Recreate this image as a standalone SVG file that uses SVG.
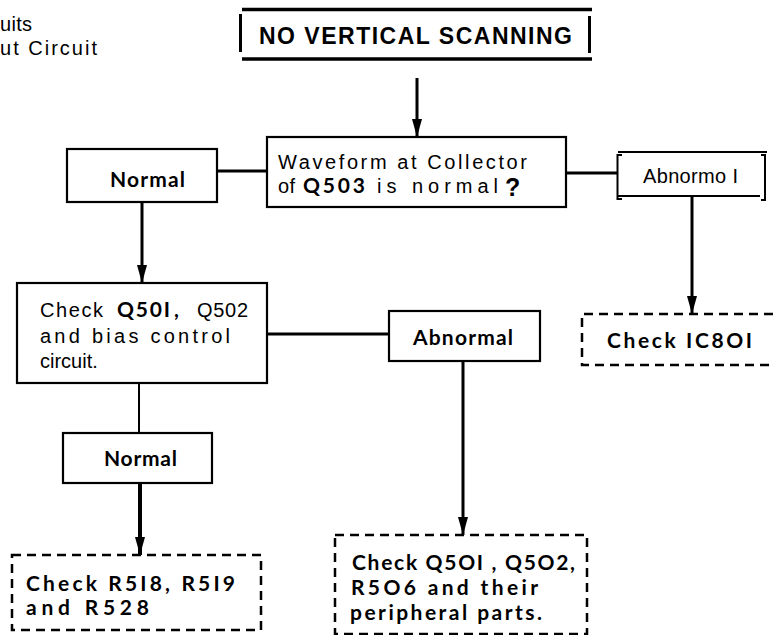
<svg xmlns="http://www.w3.org/2000/svg" width="773" height="635" viewBox="0 0 773 635">
<defs>
<style>
.box{fill:#fff;stroke:#000;stroke-width:2.2}
.dash{fill:none;stroke:#000;stroke-width:2.5;stroke-dasharray:9 6}
.conn{stroke:#000;stroke-width:3;fill:none}
.t{font-family:"Liberation Sans",Arial,sans-serif;font-size:20px;fill:#000}
.r{font-family:"Lato","Liberation Sans",sans-serif;font-weight:bold;font-size:21px;fill:#000}
</style>
<marker id="ah" markerUnits="userSpaceOnUse" markerWidth="18" markerHeight="10" refX="18" refY="5" orient="auto">
<path d="M0,0 L18,5 L0,10 Z" fill="#000"/>
</marker>
</defs>
<rect width="773" height="635" fill="#fff"/>

<g id="header-fragment">
<text class="t" x="0" y="31" font-size="18" textLength="32" lengthAdjust="spacing">uits</text>
<text class="t" x="0" y="55" font-size="18" textLength="97" lengthAdjust="spacing">ut  Circuit</text>
</g>

<g id="connectors">
<line class="conn" x1="417" y1="78" x2="417" y2="137" marker-end="url(#ah)"/>
<line class="conn" x1="217" y1="171" x2="267" y2="171"/>
<line class="conn" x1="566" y1="173" x2="617" y2="173"/>
<line class="conn" x1="142" y1="202" x2="142" y2="283" marker-end="url(#ah)"/>
<line class="conn" x1="692" y1="196" x2="692" y2="314" marker-end="url(#ah)"/>
<line class="conn" x1="267" y1="334" x2="389" y2="334"/>
<line class="conn" x1="139" y1="383" x2="139" y2="433" style="stroke-width:2"/>
<line class="conn" x1="140" y1="483" x2="140" y2="555" style="stroke-width:4" marker-end="url(#ah)"/>
<line class="conn" x1="463" y1="361" x2="463" y2="535" marker-end="url(#ah)"/>
</g>

<g id="start">
<rect x="241" y="10" width="350" height="49" fill="#fff"/>
<line x1="242" y1="9.5" x2="592" y2="9.5" stroke="#000" stroke-width="3.5"/>
<line x1="242" y1="59" x2="592" y2="59" stroke="#000" stroke-width="3.5"/>
<line x1="240.5" y1="14" x2="240.5" y2="52" stroke="#000" stroke-width="3"/>
<line x1="589.5" y1="16" x2="589.5" y2="53" stroke="#000" stroke-width="3"/>
<text x="259" y="44" font-family="Liberation Sans,Arial,sans-serif" font-weight="bold" font-size="23" textLength="313" lengthAdjust="spacing">NO  VERTICAL  SCANNING</text>
</g>

<g id="decision">
<rect class="box" x="267" y="137" width="299" height="70"/>
<text class="t" x="278" y="169" textLength="249" lengthAdjust="spacing">Waveform  at  Collector</text>
<text class="t" x="278" y="193" textLength="17" lengthAdjust="spacing">of</text>
<text class="r" x="303" y="193" textLength="62" lengthAdjust="spacing">Q503</text>
<text class="t" x="377" y="193" textLength="121" lengthAdjust="spacing">is  normal</text>
<text x="505" y="196" font-family="Liberation Sans,Arial,sans-serif" font-weight="bold" font-size="25">?</text>
</g>

<g id="normal1">
<rect class="box" x="67" y="149" width="150" height="53"/>
<text class="r" x="110" y="187" textLength="75" lengthAdjust="spacing">Normal</text>
</g>

<g id="abnormal1">
<rect x="618" y="153" width="146" height="43" fill="#fff"/>
<line x1="618" y1="152" x2="767" y2="152" stroke="#000" stroke-width="2.2"/>
<line x1="618" y1="196" x2="760" y2="196" stroke="#000" stroke-width="2.2"/>
<path d="M622,155 H617.5 V199 H622" fill="none" stroke="#000" stroke-width="2"/>
<path d="M761,155 H765 V200 H761" fill="none" stroke="#000" stroke-width="2"/>
<text class="t" x="643" y="183" font-size="21" textLength="95" lengthAdjust="spacing">Abnormo I</text>
</g>

<g id="check-q501">
<rect class="box" x="17" y="283" width="250" height="100"/>
<text class="t" x="40" y="317" textLength="63" lengthAdjust="spacing">Check</text>
<text class="r" x="117" y="317" font-size="23" textLength="53" lengthAdjust="spacing">Q50I</text>
<text class="r" x="174" y="317" font-size="23">,</text>
<text class="t" x="197" y="317" textLength="51" lengthAdjust="spacing">Q502</text>
<text class="t" x="40" y="343" textLength="190" lengthAdjust="spacing">and  bias  control</text>
<text class="t" x="40" y="368">circuit.</text>
</g>

<g id="abnormal2">
<rect class="box" x="389" y="311" width="151" height="50"/>
<text class="r" x="413" y="345" textLength="100" lengthAdjust="spacing">Abnormal</text>
</g>

<g id="check-ic801">
<path class="dash" d="M773,314 H582 V365 H773"/>
<text class="r" x="607" y="348" textLength="145" lengthAdjust="spacing">Check  IC8OI</text>
</g>

<g id="normal2">
<rect class="box" x="63" y="433" width="149" height="50"/>
<text class="r" x="104" y="466" textLength="73" lengthAdjust="spacing">Normal</text>
</g>

<g id="check-r518">
<rect class="dash" x="12" y="555" width="249" height="75"/>
<text class="r" x="26" y="591" textLength="209" lengthAdjust="spacing">Check R5I8, R5I9</text>
<text class="r" x="26" y="615" textLength="123" lengthAdjust="spacing">and  R528</text>
</g>

<g id="check-q501-parts">
<rect class="dash" x="335" y="535" width="252" height="99"/>
<text class="r" x="352" y="570" font-size="20" textLength="223" lengthAdjust="spacing">Check Q5OI , Q5O2,</text>
<text class="r" x="351" y="595" font-size="20" textLength="187" lengthAdjust="spacing">R5O6  and  their</text>
<text class="r" x="350" y="620" font-size="20" textLength="192" lengthAdjust="spacing">peripheral  parts.</text>
</g>
</svg>
